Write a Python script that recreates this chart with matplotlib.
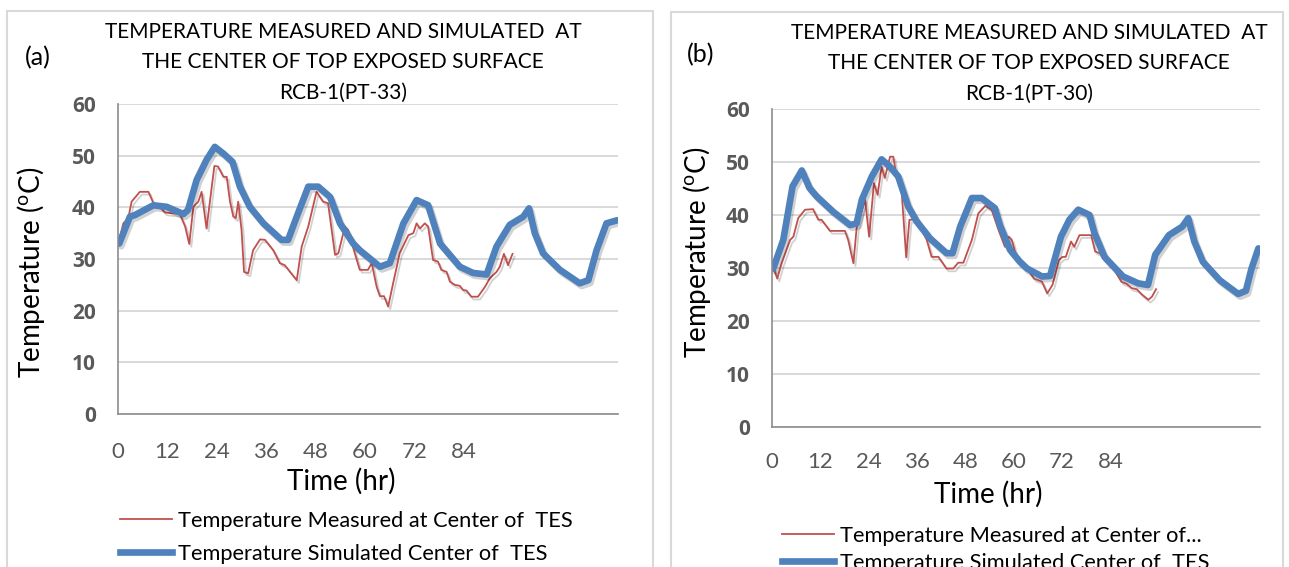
import matplotlib
matplotlib.use("Agg")
import matplotlib.pyplot as plt
import matplotlib.patheffects as pe
from matplotlib.patches import Rectangle

plt.rcParams['font.family'] = ['Lato', 'DejaVu Sans']

# ---- RCB-1 (PT-33) ----
a_meas_t = [0.3, 1.3, 2.5, 3.3, 5.3, 7.4, 8.6, 9.8, 11.4, 15.0, 16.3, 17.3, 18.3, 19.5, 20.3,
            21.5, 23.4, 24.3, 25.6, 26.4, 27.2, 28.0, 28.6, 29.2, 30.0, 30.6, 31.6, 32.8, 34.5,
            35.7, 37.7, 39.3, 40.5, 43.4, 44.6, 46.2, 48.2, 49.8, 51.0, 52.7, 53.5, 55.1, 55.9,
            57.5, 58.7, 60.7, 61.6, 62.8, 63.6, 64.6, 65.6, 66.8, 68.4, 70.5, 71.7, 72.5, 73.3,
            74.5, 75.3, 76.5, 77.7, 78.5, 79.8, 80.6, 81.8, 83.0, 83.8, 84.6, 85.8, 87.4, 89.1,
            90.3, 91.9, 92.7, 93.7, 94.7, 95.8]
a_meas_T = [33.7, 36.9, 37.9, 41.1, 43.0, 43.0, 40.8, 40.4, 39.0, 38.7, 36.3, 32.9, 40.1, 41.1, 43.0,
            35.9, 48.0, 47.9, 45.9, 45.9, 41.1, 38.2, 37.9, 41.1, 35.6, 27.5, 27.2, 31.7, 33.8,
            33.7, 31.7, 29.2, 28.8, 25.9, 32.4, 36.3, 43.0, 41.1, 40.8, 30.8, 31.1, 36.3, 35.6,
            31.1, 27.9, 27.9, 29.2, 24.6, 22.8, 22.8, 20.8, 25.3, 31.1, 34.6, 35.0, 36.9, 35.9,
            36.9, 36.3, 29.8, 29.5, 27.9, 27.5, 25.6, 25.0, 24.8, 24.0, 23.9, 22.7, 22.7, 24.6,
            26.3, 27.5, 28.5, 31.0, 28.8, 31.0]

a_sim_t = [0.3, 2.9, 4.1, 8.6, 11.8, 15.9, 17.0, 19.1, 21.5, 23.5, 25.6, 27.8, 29.6, 32.0, 35.3,
           39.7, 41.3, 43.4, 46.2, 48.6, 51.5, 53.9, 57.1, 58.7, 63.6, 66.0, 69.3, 72.5, 75.3,
           78.2, 83.0, 86.2, 89.5, 91.9, 95.1, 98.4, 99.8, 101.2, 103.2, 107.3, 112.1, 114.2,
           116.2, 118.6, 121.2]
a_sim_T = [33.0, 38.2, 38.5, 40.4, 40.1, 38.7, 39.5, 45.3, 49.2, 51.7, 50.4, 48.8, 44.0, 40.1, 36.9,
           33.7, 33.7, 38.2, 44.0, 44.0, 42.0, 36.9, 33.0, 31.7, 28.5, 29.2, 36.9, 41.4, 40.4,
           33.0, 28.5, 27.3, 27.0, 32.4, 36.6, 38.2, 39.8, 35.0, 31.1, 27.9, 25.3, 25.9,
           31.7, 36.9, 37.5]

# ---- RCB-1 (PT-30) ----
b_meas_t = [0.3, 1.3, 2.4, 4.5, 5.3, 6.5, 8.2, 10.2, 11.5, 12.3, 14.4, 18.1, 18.9, 20.2, 21.0,
            23.1, 24.1, 25.3, 26.2, 27.2, 28.0, 29.3, 30.1, 30.9, 32.2, 33.3, 34.1, 35.9, 38.4,
            39.6, 41.3, 43.3, 45.0, 46.2, 47.5, 49.6, 51.2, 52.9, 54.5, 56.2, 57.8, 58.8, 59.5,
            60.8, 63.3, 65.0, 67.0, 68.3, 69.6, 71.2, 72.1, 72.9, 74.2, 75.0, 76.3, 79.2, 80.2,
            81.3, 84.2, 86.7, 88.0, 89.3, 90.5, 91.8, 93.4, 94.3, 95.3]
b_meas_T = [30.2, 28.0, 30.9, 35.3, 35.9, 39.4, 41.0, 41.1, 39.1, 39.1, 37.0, 37.0, 35.3, 30.9, 37.5,
            42.9, 35.9, 46.0, 43.8, 49.1, 47.0, 51.0, 51.0, 47.3, 44.1, 32.0, 39.1, 39.1, 35.3,
            32.1, 32.1, 29.9, 29.9, 31.0, 31.0, 35.3, 40.3, 41.7, 41.0, 37.2, 34.0, 35.9, 35.3,
            31.8, 29.9, 28.0, 27.4, 25.2, 26.8, 31.5, 32.1, 32.1, 35.0, 34.0, 36.2, 36.2, 33.1,
            32.8, 30.6, 27.4, 27.0, 26.2, 26.0, 25.0, 24.0, 24.6, 26.0]

b_sim_t = [0.3, 2.8, 5.1, 7.4, 9.3, 11.1, 15.2, 19.4, 21.0, 22.3, 24.8, 27.2, 29.3, 31.3, 33.8,
           35.9, 39.2, 43.3, 44.8, 46.7, 49.6, 52.0, 55.3, 56.6, 59.1, 61.5, 63.3, 67.0, 69.0,
           71.7, 73.8, 76.0, 78.8, 80.0, 82.5, 87.1, 90.9, 93.3, 95.1, 98.5, 101.8, 103.3,
           104.8, 106.9, 111.1, 115.7, 117.6, 119.0, 120.7]
b_sim_T = [29.9, 35.3, 45.4, 48.4, 45.1, 43.5, 40.6, 38.1, 38.4, 42.9, 47.3, 50.5, 49.1, 47.3, 41.6,
           38.8, 35.6, 32.8, 32.8, 37.8, 43.2, 43.2, 41.3, 38.0, 33.4, 31.2, 29.9, 28.4, 28.5,
           35.9, 39.1, 41.0, 40.0, 36.6, 32.1, 28.4, 27.1, 26.8, 32.5, 36.2, 37.8, 39.4,
           35.0, 31.2, 27.7, 25.1, 25.7, 29.9, 33.7]

x_ticks = [0, 12, 24, 36, 48, 60, 72, 84]
y_ticks = [0, 10, 20, 30, 40, 50, 60]

RED = '#C0504D'
BLUE = '#4F81BD'
TICK_GRAY = '#595959'

W, H = 1289, 567
fig = plt.figure(figsize=(W / 100, H / 100), dpi=100)


def fx(px):
    return px / W


def fy(py):
    return 1 - py / H


def panel(rect, meas_t, meas_T, sim_t, sim_T, xmax, xpad):
    ax = fig.add_axes(rect)
    shadow = [pe.SimpleLineShadow(offset=(1.5, -2), shadow_color='k', alpha=0.18), pe.Normal()]
    ax.plot(meas_t, meas_T, color=RED, lw=1.3, path_effects=shadow, solid_joinstyle='round')
    ax.plot(sim_t, sim_T, color=BLUE, lw=4.8, path_effects=shadow,
            solid_joinstyle='round', solid_capstyle='round')
    ax.set_xlim(0, xmax)
    ax.set_ylim(0, 60)
    ax.set_xticks(x_ticks, labels=[str(v) for v in x_ticks])
    # bold value labels on the temperature axis
    ax.set_yticks(y_ticks, labels=[str(v) for v in y_ticks],
                  fontfamily='Open Sans', fontweight='bold')
    ax.grid(axis='y', color='#D9D9D9', lw=1.4)
    ax.set_axisbelow(True)
    for s in ['top', 'right']:
        ax.spines[s].set_visible(False)
    for s in ['left', 'bottom']:
        ax.spines[s].set_color('#8C8C8C')
        ax.spines[s].set_linewidth(1.2)
    ax.tick_params(axis='y', length=0, pad=16, labelsize=15, labelcolor=TICK_GRAY)
    ax.tick_params(axis='x', length=0, pad=xpad, labelsize=16, labelcolor=TICK_GRAY)
    return ax


# chart area frames
fig.add_artist(Rectangle((fx(7), -0.05), fx(653 - 7), fy(11) + 0.05, transform=fig.transFigure,
                         fill=False, ec='#D9D9D9', lw=1.5))
fig.add_artist(Rectangle((fx(671), -0.05), fx(1283 - 671), fy(12) + 0.05, transform=fig.transFigure,
                         fill=False, ec='#D9D9D9', lw=1.5))

ax1 = panel([fx(118), fy(414), fx(618 - 118), (414 - 104) / H],
            a_meas_t, a_meas_T, a_sim_t, a_sim_T, 121.4, 20)
ax2 = panel([fx(772), fy(427), fx(1260 - 772), (427 - 109) / H],
            b_meas_t, b_meas_T, b_sim_t, b_sim_T, 121.1, 18)

title = 'TEMPERATURE MEASURED AND SIMULATED  AT\nTHE CENTER OF TOP EXPOSED SURFACE\n'
fig.text(fx(343), fy(62), title + 'RCB-1(PT-33)', ha='center', va='center', fontsize=15, linespacing=1.65)
fig.text(fx(1029), fy(63), title + 'RCB-1(PT-30)', ha='center', va='center', fontsize=15, linespacing=1.65)
fig.text(fx(38), fy(58), '(a)', ha='center', va='center', fontsize=18)
fig.text(fx(701), fy(55), '(b)', ha='center', va='center', fontsize=18)

ylab = r'Temperature ($\mathregular{^{o}}$C)'
fig.text(fx(31), fy(272), ylab, rotation=90, ha='center', va='center', fontsize=20)
fig.text(fx(697), fy(252), ylab, rotation=90, ha='center', va='center', fontsize=20)
fig.text(fx(341), fy(481), 'Time (hr)', ha='center', va='center', fontsize=20)
fig.text(fx(988), fy(494), 'Time (hr)', ha='center', va='center', fontsize=20)


def legend(ax, labels, x, y, spacing):
    h1, = ax.plot([], [], color=RED, lw=1.3)
    h2, = ax.plot([], [], color=BLUE, lw=4.8)
    ax.legend([h1, h2], labels, loc='upper left', bbox_to_anchor=(fx(x), fy(y)),
              bbox_transform=fig.transFigure, frameon=False, fontsize=15.7,
              handlelength=2.4, handletextpad=0.25, labelspacing=spacing,
              borderpad=0, borderaxespad=0)


legend(ax1, ['Temperature Measured at Center of  TES', 'Temperature Simulated Center of  TES'],
       120, 511, 0.58)
legend(ax2, ['Temperature Measured at Center of...', 'Temperature Simulated Center of  TES'],
       782, 526, 0.3)

fig.savefig('out.png', dpi=100)
